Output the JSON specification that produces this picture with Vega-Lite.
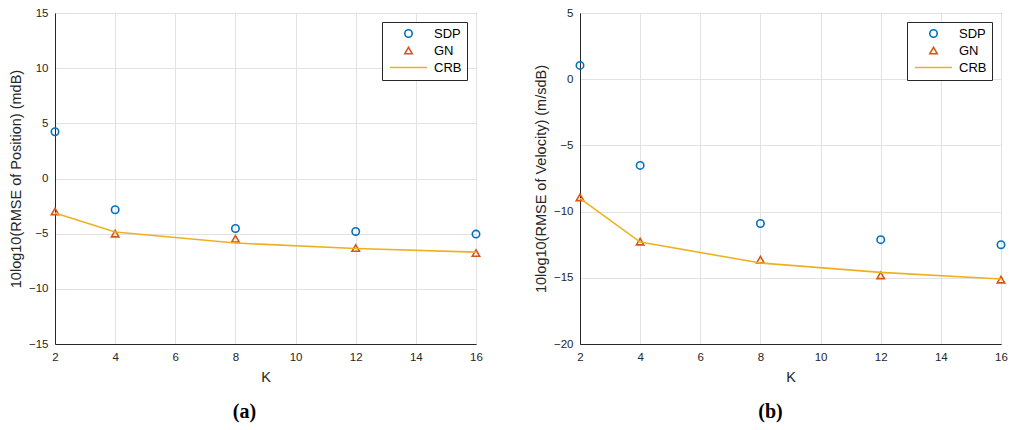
{
  "$schema": "https://vega.github.io/schema/vega-lite/v6.json",
  "background": "white",
  "padding": {"left": 7, "top": 6, "right": 19, "bottom": 5},
  "config": {
    "font": "Liberation Sans",
    "view": {"stroke": "#262626", "strokeWidth": 1},
    "axis": {
      "domainColor": "#262626",
      "labelColor": "#262626",
      "titleColor": "#262626",
      "labelFontSize": 11.5,
      "titleFontSize": 14.5,
      "titleFontWeight": "normal",
      "gridColor": "#e2e2e2",
      "grid": true,
      "ticks": false,
      "labelPadding": 7
    },
    "legend": {
      "labelFontSize": 13,
      "labelColor": "#000000",
      "strokeColor": "#262626",
      "fillColor": "white",
      "padding": 5,
      "rowPadding": 3,
      "symbolSize": 1369,
      "symbolStrokeWidth": 1.6,
      "symbolOffset": 15,
      "labelOffset": 19,
      "orient": "top-right",
      "offset": 9
    },
    "title": {"font": "Liberation Serif", "fontSize": 20, "fontWeight": "bold", "color": "#000000", "orient": "bottom", "offset": 18},
    "concat": {"spacing": 48}
  },
  "datasets": {
    "a": [
      {"K": 2, "series": "SDP", "value": 4.24},
      {"K": 4, "series": "SDP", "value": -2.83},
      {"K": 8, "series": "SDP", "value": -4.53},
      {"K": 12, "series": "SDP", "value": -4.8},
      {"K": 16, "series": "SDP", "value": -5.04},
      {"K": 2, "series": "GN", "value": -3.0},
      {"K": 4, "series": "GN", "value": -5.0},
      {"K": 8, "series": "GN", "value": -5.46},
      {"K": 12, "series": "GN", "value": -6.3},
      {"K": 16, "series": "GN", "value": -6.76},
      {"K": 2, "series": "CRB", "value": -3.13},
      {"K": 4, "series": "CRB", "value": -4.85},
      {"K": 8, "series": "CRB", "value": -5.85},
      {"K": 12, "series": "CRB", "value": -6.34},
      {"K": 16, "series": "CRB", "value": -6.67}
    ],
    "b": [
      {"K": 2, "series": "SDP", "value": 1.04},
      {"K": 4, "series": "SDP", "value": -6.51},
      {"K": 8, "series": "SDP", "value": -10.9},
      {"K": 12, "series": "SDP", "value": -12.12},
      {"K": 16, "series": "SDP", "value": -12.5},
      {"K": 2, "series": "GN", "value": -8.93},
      {"K": 4, "series": "GN", "value": -12.27},
      {"K": 8, "series": "GN", "value": -13.63},
      {"K": 12, "series": "GN", "value": -14.82},
      {"K": 16, "series": "GN", "value": -15.14},
      {"K": 2, "series": "CRB", "value": -9.0},
      {"K": 4, "series": "CRB", "value": -12.3},
      {"K": 8, "series": "CRB", "value": -13.88},
      {"K": 12, "series": "CRB", "value": -14.59},
      {"K": 16, "series": "CRB", "value": -15.09}
    ]
  },
  "hconcat": [
    {
      "width": 421,
      "height": 331,
      "title": {"text": "(a)", "dx": -21},
      "data": {"name": "a"},
      "encoding": {
        "x": {"field": "K", "type": "quantitative", "title": "K", "scale": {"domain": [2, 16], "nice": false}, "axis": {"values": [2, 4, 6, 8, 10, 12, 14, 16], "labelFlush": false, "titlePadding": 8}},
        "y": {"field": "value", "type": "quantitative", "title": "10log10(RMSE of Position) (mdB)", "scale": {"domain": [-15, 15], "nice": false}, "axis": {"values": [-15, -10, -5, 0, 5, 10, 15], "labelFlush": false, "titlePadding": 5}}
      },
      "layer": [
        {
          "transform": [{"filter": "datum.series !== 'CRB'"}],
          "mark": {"type": "point", "filled": false, "strokeWidth": 1.6, "size": 55, "opacity": 1},
          "encoding": {
            "color": {"field": "series", "type": "nominal", "scale": {"domain": ["SDP", "GN", "CRB"], "range": ["#0072BD", "#D95319", "#EDB120"]}, "legend": {"title": null, "encode": {"symbols": {"update": {"size": {"signal": "datum.value === 'CRB' ? 1369 : 55"}}}}}},
            "shape": {"field": "series", "type": "nominal", "scale": {"domain": ["SDP", "GN", "CRB"], "range": ["circle", "triangle-up", "stroke"]}, "legend": {"title": null, "encode": {"symbols": {"update": {"size": {"signal": "datum.value === 'CRB' ? 1369 : 55"}}}}}}
          }
        },
        {
          "transform": [{"filter": "datum.series === 'CRB'"}],
          "mark": {"type": "line", "strokeWidth": 1.6},
          "encoding": {
            "color": {"field": "series", "type": "nominal", "scale": {"domain": ["SDP", "GN", "CRB"], "range": ["#0072BD", "#D95319", "#EDB120"]}, "legend": {"title": null, "encode": {"symbols": {"update": {"size": {"signal": "datum.value === 'CRB' ? 1369 : 55"}}}}}}
          }
        }
      ]
    },
    {
      "width": 421,
      "height": 331,
      "title": {"text": "(b)", "dx": -20},
      "data": {"name": "b"},
      "encoding": {
        "x": {"field": "K", "type": "quantitative", "title": "K", "scale": {"domain": [2, 16], "nice": false}, "axis": {"values": [2, 4, 6, 8, 10, 12, 14, 16], "labelFlush": false, "titlePadding": 8}},
        "y": {"field": "value", "type": "quantitative", "title": "10log10(RMSE of Velocity) (m/sdB)", "scale": {"domain": [-20, 5], "nice": false}, "axis": {"values": [-20, -15, -10, -5, 0, 5], "labelFlush": false, "titlePadding": 5}}
      },
      "layer": [
        {
          "transform": [{"filter": "datum.series !== 'CRB'"}],
          "mark": {"type": "point", "filled": false, "strokeWidth": 1.6, "size": 55, "opacity": 1},
          "encoding": {
            "color": {"field": "series", "type": "nominal", "scale": {"domain": ["SDP", "GN", "CRB"], "range": ["#0072BD", "#D95319", "#EDB120"]}, "legend": {"title": null, "encode": {"symbols": {"update": {"size": {"signal": "datum.value === 'CRB' ? 1369 : 55"}}}}}},
            "shape": {"field": "series", "type": "nominal", "scale": {"domain": ["SDP", "GN", "CRB"], "range": ["circle", "triangle-up", "stroke"]}, "legend": {"title": null, "encode": {"symbols": {"update": {"size": {"signal": "datum.value === 'CRB' ? 1369 : 55"}}}}}}
          }
        },
        {
          "transform": [{"filter": "datum.series === 'CRB'"}],
          "mark": {"type": "line", "strokeWidth": 1.6},
          "encoding": {
            "color": {"field": "series", "type": "nominal", "scale": {"domain": ["SDP", "GN", "CRB"], "range": ["#0072BD", "#D95319", "#EDB120"]}, "legend": {"title": null, "encode": {"symbols": {"update": {"size": {"signal": "datum.value === 'CRB' ? 1369 : 55"}}}}}}
          }
        }
      ]
    }
  ],
  "resolve": {"scale": {"color": "independent", "shape": "independent", "y": "independent"}, "legend": {"color": "independent", "shape": "independent"}}
}
